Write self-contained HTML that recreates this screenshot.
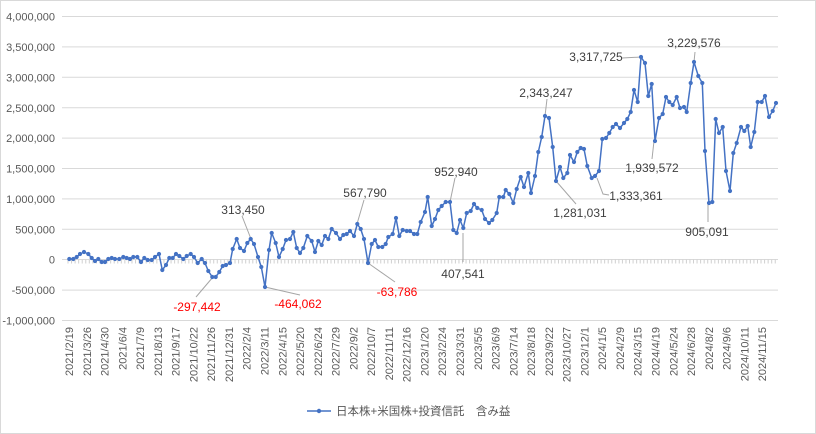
<!DOCTYPE html>
<html><head><meta charset="utf-8"><style>
html,body{margin:0;padding:0;background:#fff}
svg{display:block;font-family:"Liberation Sans","Noto Sans CJK JP",sans-serif}
</style></head><body>
<svg width="816" height="434" viewBox="0 0 816 434" xmlns="http://www.w3.org/2000/svg">
<defs>
<marker id="dot" markerUnits="userSpaceOnUse" markerWidth="6" markerHeight="6" refX="3" refY="3" viewBox="0 0 6 6">
<circle cx="3" cy="3" r="2.1" fill="#4472C4"/>
</marker>
</defs>
<rect x="0.5" y="0.5" width="815" height="433" fill="#fff" stroke="#d9d9d9"/>
<g stroke="#d9d9d9" stroke-width="1">
<line x1="62" y1="16.5" x2="778" y2="16.5"/>
<line x1="62" y1="46.9" x2="778" y2="46.9"/>
<line x1="62" y1="77.3" x2="778" y2="77.3"/>
<line x1="62" y1="107.7" x2="778" y2="107.7"/>
<line x1="62" y1="138.1" x2="778" y2="138.1"/>
<line x1="62" y1="168.5" x2="778" y2="168.5"/>
<line x1="62" y1="198.9" x2="778" y2="198.9"/>
<line x1="62" y1="229.3" x2="778" y2="229.3"/>
<line x1="62" y1="290.1" x2="778" y2="290.1"/>
<line x1="62" y1="320.5" x2="778" y2="320.5"/>
<line x1="62" y1="259.5" x2="778" y2="259.5"/>
</g>
<line x1="67.5" y1="261.5" x2="778" y2="261.5" stroke="#d0d0d0" stroke-width="4" stroke-dasharray="1 2.554"/>
<g font-size="11" fill="#595959" text-anchor="end">
<text x="55" y="20.5">4,000,000</text>
<text x="55" y="51">3,500,000</text>
<text x="55" y="81.5">3,000,000</text>
<text x="55" y="112">2,500,000</text>
<text x="55" y="142">2,000,000</text>
<text x="55" y="172.5">1,500,000</text>
<text x="55" y="203">1,000,000</text>
<text x="55" y="233.5">500,000</text>
<text x="55" y="263.5">0</text>
<text x="55" y="294">-500,000</text>
<text x="55" y="324.5">-1,000,000</text>
</g>
<g font-size="11" fill="#595959" text-anchor="end">
<text transform="translate(73,327) rotate(-90)">2021/2/19</text>
<text transform="translate(90.8,327) rotate(-90)">2021/3/26</text>
<text transform="translate(108.5,327) rotate(-90)">2021/4/30</text>
<text transform="translate(126.3,327) rotate(-90)">2021/6/4</text>
<text transform="translate(144.1,327) rotate(-90)">2021/7/9</text>
<text transform="translate(161.9,327) rotate(-90)">2021/8/13</text>
<text transform="translate(179.6,327) rotate(-90)">2021/9/17</text>
<text transform="translate(197.4,327) rotate(-90)">2021/10/22</text>
<text transform="translate(215.2,327) rotate(-90)">2021/11/26</text>
<text transform="translate(233,327) rotate(-90)">2021/12/31</text>
<text transform="translate(250.7,327) rotate(-90)">2022/2/4</text>
<text transform="translate(268.5,327) rotate(-90)">2022/3/11</text>
<text transform="translate(286.3,327) rotate(-90)">2022/4/15</text>
<text transform="translate(304,327) rotate(-90)">2022/5/20</text>
<text transform="translate(321.8,327) rotate(-90)">2022/6/24</text>
<text transform="translate(339.6,327) rotate(-90)">2022/7/29</text>
<text transform="translate(357.4,327) rotate(-90)">2022/9/2</text>
<text transform="translate(375.1,327) rotate(-90)">2022/10/7</text>
<text transform="translate(392.9,327) rotate(-90)">2022/11/11</text>
<text transform="translate(410.7,327) rotate(-90)">2022/12/16</text>
<text transform="translate(428.5,327) rotate(-90)">2023/1/20</text>
<text transform="translate(446.2,327) rotate(-90)">2023/2/24</text>
<text transform="translate(464,327) rotate(-90)">2023/3/31</text>
<text transform="translate(481.8,327) rotate(-90)">2023/5/5</text>
<text transform="translate(499.6,327) rotate(-90)">2023/6/9</text>
<text transform="translate(517.3,327) rotate(-90)">2023/7/14</text>
<text transform="translate(535.1,327) rotate(-90)">2023/8/18</text>
<text transform="translate(552.9,327) rotate(-90)">2023/9/22</text>
<text transform="translate(570.6,327) rotate(-90)">2023/10/27</text>
<text transform="translate(588.4,327) rotate(-90)">2023/12/1</text>
<text transform="translate(606.2,327) rotate(-90)">2024/1/5</text>
<text transform="translate(624,327) rotate(-90)">2024/2/9</text>
<text transform="translate(641.7,327) rotate(-90)">2024/3/15</text>
<text transform="translate(659.5,327) rotate(-90)">2024/4/19</text>
<text transform="translate(677.3,327) rotate(-90)">2024/5/24</text>
<text transform="translate(695.1,327) rotate(-90)">2024/6/28</text>
<text transform="translate(712.8,327) rotate(-90)">2024/8/2</text>
<text transform="translate(730.6,327) rotate(-90)">2024/9/6</text>
<text transform="translate(748.4,327) rotate(-90)">2024/10/11</text>
<text transform="translate(766.2,327) rotate(-90)">2024/11/15</text>
</g>
<g stroke="#a6a6a6" stroke-width="1" fill="none">
<polyline points="242,216 251,239"/>
<polyline points="196,297 213,277"/>
<polyline points="265,287 300,295"/>
<polyline points="364,200 357,224"/>
<polyline points="368,263 395,282"/>
<polyline points="455,178 450,202"/>
<polyline points="463,233 463,262"/>
<polyline points="547,99 545,116"/>
<polyline points="556,181 576,204"/>
<polyline points="622,58 641,57"/>
<polyline points="597,178 603,194 609,195"/>
<polyline points="654,141 652,159"/>
<polyline points="695,52 694,62"/>
<polyline points="708,222 708,203"/>
</g>
<polyline fill="none" stroke="#4472C4" stroke-width="1.5" stroke-linejoin="round" marker-start="url(#dot)" marker-mid="url(#dot)" marker-end="url(#dot)" points="69.3,259 73.3,259 76.7,257 80,254 84,252 88.3,254 91.7,258 95,261 98.3,259 101.7,262 105,262 108.3,259 111.7,258 115,259 119.3,259 123.3,257 126.7,258 130,259 133.3,257 137.3,257 141,262 144.3,258 147.7,260 151.7,260 155,257 159,254 162.3,270 166,265 169.3,258 172.7,258 176,254 179.3,256 183.3,259 186.7,256 190.7,254 194,257 197.7,263 201.7,259 205,263 208.3,271 212.3,277 215.7,277 219.3,272 222.7,266 226,265 230,263 232.7,249 236.7,239 240,248 244,251 247.3,243 250.7,239 254,244 258,257 261.3,267 265,287 269,250 271.7,233 275.7,243 279,257 282.7,249 286,240 290,239 293.3,232 296.7,248 300,253 303.3,248 307.3,236 311.7,241 315,252 318.3,241 321.7,245 325,236 328.3,239 331.7,229 336,233 340,239 343.3,235 346.7,234 350,231 354,236 357.3,224 360.7,229 364,239 368,263 371.7,244 375,240 378.3,247 382.3,247 385.7,244 388.3,237 392.7,234 396,218 399.3,236 402.7,230 406.7,231 410,231 414,234 417.3,234 420.7,222 425,212 427.7,197 431.7,226 435,219 438.3,210 441.7,206 445.7,202 450,202 453.3,230 456.7,233 460,220 463.3,228 466.7,213 470.7,211 474,204 477.3,208 481.7,210 485,219 489,223 492.3,220 496.7,213 499.3,197 503.3,197 505.7,190 509.3,194 513.3,203 516.7,189 520.7,177 524,187 528.3,173 531,193 535,176 538.3,152 541.7,137 545,116 549,118 552.7,147 556,181 560,167 563.3,178 567.3,173 570,155 574,162 577.3,152 580.7,148 584,149 587.3,166 591.7,178 595,176 599,171 602.3,139 606,138 609.3,133 612.7,127 616,124 620,128 624,123 627.3,119 630.7,112 634,90 637.7,102 641,57 645,63 648.3,96 651.7,84 655,141 659,118 662.7,114 666,97 669.3,102 672.7,105 676.7,97 680,108 684,107 686.7,112 690.7,83 694,62 698.3,76 702.3,83 705,151 709,203 712.3,202 715.7,119 719,133 722.7,127 726,171 730,191 733.3,153 736.7,143 741,127 744.3,131 747.7,126 750.7,147 754.3,132 757.7,102 761.7,102 765,96 769,117 772.7,111 776,103"/>
<g font-size="12" fill="#404040" text-anchor="middle">
<text x="243" y="214">313,450</text>
<text x="365" y="197">567,790</text>
<text x="456" y="176">952,940</text>
<text x="463" y="278">407,541</text>
<text x="546" y="97">2,343,247</text>
<text x="580" y="217">1,281,031</text>
<text x="596" y="61">3,317,725</text>
<text x="636" y="200">1,333,361</text>
<text x="652" y="172">1,939,572</text>
<text x="694" y="47">3,229,576</text>
<text x="707" y="236">905,091</text>
</g>
<g font-size="12" fill="#ff0000" text-anchor="middle">
<text x="197" y="311">-297,442</text>
<text x="298" y="308">-464,062</text>
<text x="397" y="296">-63,786</text>
</g>
<line x1="307" y1="411" x2="331" y2="411" stroke="#4472C4" stroke-width="1.5"/>
<circle cx="319" cy="411" r="2.2" fill="#4472C4"/>
<text x="336" y="415" font-size="11.5" fill="#595959">日本株+米国株+投資信託　含み益</text>
</svg>
</body></html>
